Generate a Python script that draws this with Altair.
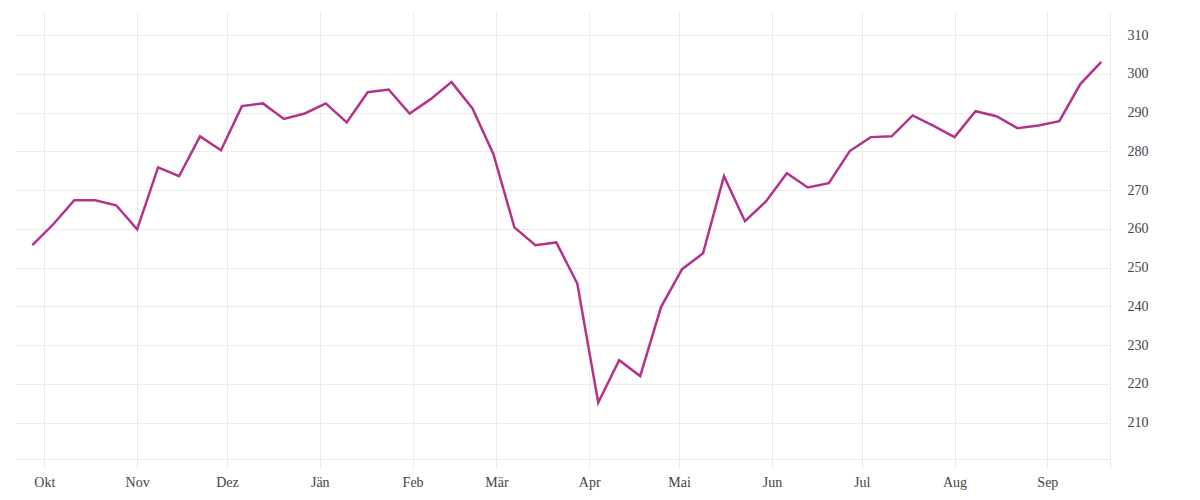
import altair as alt
import pandas as pd

dates = [
    "2024/09/27", "2024/10/04", "2024/10/11", "2024/10/18", "2024/10/25",
    "2024/11/01", "2024/11/08", "2024/11/15", "2024/11/22", "2024/11/29",
    "2024/12/06", "2024/12/13", "2024/12/20", "2024/12/27",
    "2025/01/03", "2025/01/10", "2025/01/17", "2025/01/24", "2025/01/31",
    "2025/02/07", "2025/02/14", "2025/02/21", "2025/02/28",
    "2025/03/07", "2025/03/14", "2025/03/21", "2025/03/28",
    "2025/04/04", "2025/04/11", "2025/04/18", "2025/04/25",
    "2025/05/02", "2025/05/09", "2025/05/16", "2025/05/23", "2025/05/30",
    "2025/06/06", "2025/06/13", "2025/06/20", "2025/06/27",
    "2025/07/04", "2025/07/11", "2025/07/18", "2025/07/25",
    "2025/08/01", "2025/08/08", "2025/08/15", "2025/08/22", "2025/08/29",
    "2025/09/05", "2025/09/12", "2025/09/19",
]

values = [
    255.8, 261.2, 267.4, 267.4, 266.1,
    259.9, 275.9, 273.6, 283.9, 280.3,
    291.7, 292.4, 288.4, 289.8,
    292.4, 287.5, 295.3, 296.0, 289.8,
    293.5, 297.9, 291.1, 279.3,
    260.4, 255.8, 256.5, 245.9,
    215.2, 226.1, 222.0, 239.9,
    249.6, 253.7, 273.6, 262.0, 267.1,
    274.4, 270.7, 271.8, 280.1,
    283.7, 283.9, 289.3, 286.6,
    283.7, 290.4, 289.1, 286.0, 286.7,
    287.8, 297.4, 303.1,
]

y_ticks = [210, 220, 230, 240, 250, 260, 270, 280, 290, 300, 310]
month_names = ["Jän", "Feb", "Mär", "Apr", "Mai", "Jun", "Jul", "Aug", "Sep", "Okt", "Nov", "Dez"]
month_ticks = [(2024, 10), (2024, 11), (2024, 12), (2025, 1), (2025, 2), (2025, 3),
               (2025, 4), (2025, 5), (2025, 6), (2025, 7), (2025, 8), (2025, 9)]

df = pd.DataFrame({"date": dates, "value": values})

grid_color = "#ebebeb"
text_color = "#444444"
font = "Liberation Serif"

x_start = alt.DateTime(year=2024, month=9, date=21, hours=5)
x_end = alt.DateTime(year=2025, month=9, date=21, hours=22)

tick_values = [alt.DateTime(year=y, month=m, date=1) for (y, m) in month_ticks] + [x_end]
names_js = "[" + ",".join("'" + n + "'" for n in month_names) + "]"

chart = alt.Chart(df).mark_line(color="#b3338b", strokeWidth=2.5).encode(
    x=alt.X(
        "date:T",
        scale=alt.Scale(domain=[x_start, x_end]),
        axis=alt.Axis(
            title=None,
            values=tick_values,
            labelExpr="date(datum.value) == 1 ? " + names_js + "[month(datum.value)] : ''",
            grid=True,
            gridColor=grid_color,
            domainColor=grid_color,
            tickColor=grid_color,
            tickSize=10,
            labelPadding=6,
            labelFont=font,
            labelFontSize=14,
            labelColor=text_color,
        ),
    ),
    y=alt.Y(
        "value:Q",
        scale=alt.Scale(domain=[200.6, 316.0], nice=False, zero=False),
        axis=alt.Axis(
            title=None,
            orient="right",
            values=y_ticks,
            grid=True,
            gridColor=grid_color,
            domain=False,
            ticks=False,
            labelPadding=17,
            labelFont=font,
            labelFontSize=14,
            labelColor=text_color,
            labelAlign="left",
        ),
    ),
).properties(
    width=1095,
    height=447,
    background="white",
    padding={"left": 7, "top": 4, "right": 5, "bottom": 5},
).configure_view(stroke=None)

chart.save("out.html", embed_options={"renderer": "svg", "actions": False})
